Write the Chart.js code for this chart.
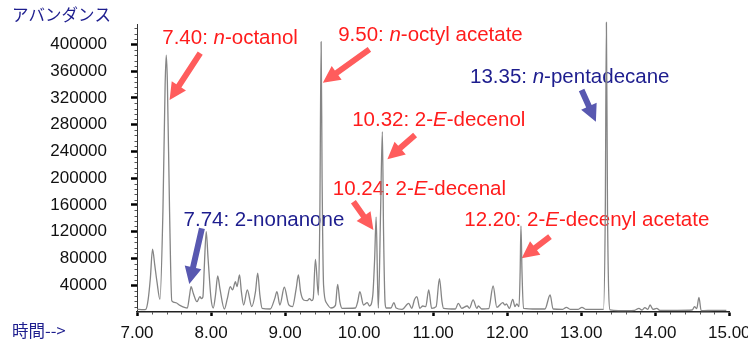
<!DOCTYPE html>
<html>
<head>
<meta charset="utf-8">
<script src="https://cdn.jsdelivr.net/npm/chart.js@4.4.1/dist/chart.umd.min.js"></script>
<style>
  html, body { margin: 0; padding: 0; background: #fff; overflow: hidden; }
  #wrap { width: 748px; height: 341px; position: relative; }
</style>
</head>
<body>
<div id="wrap"><canvas id="chart"></canvas></div>
<script>
// retention time (min) and abundance
const times = [
    7.00, 7.08, 7.12, 7.15, 7.18, 7.21, 7.24, 7.27, 7.31, 7.35, 7.38, 7.395, 7.41, 7.44, 7.47,
    7.52, 7.58, 7.64, 7.68, 7.71, 7.73, 7.76, 7.81, 7.85, 7.87, 7.89, 7.91, 7.935, 7.96, 8.00,
    8.03, 8.06, 8.09, 8.12, 8.18, 8.22, 8.26, 8.29, 8.33, 8.35, 8.385, 8.41, 8.44, 8.49, 8.55,
    8.60, 8.63, 8.66, 8.69, 8.80, 8.86, 8.89, 8.93, 8.99, 9.05, 9.10, 9.15, 9.18, 9.21, 9.25,
    9.30, 9.33, 9.36, 9.38, 9.41, 9.45, 9.47, 9.487, 9.50, 9.52, 9.56, 9.62, 9.68, 9.71, 9.74,
    9.77, 9.95, 9.98, 10.01, 10.06, 10.11, 10.14, 10.185, 10.21, 10.23, 10.25, 10.26, 10.29, 10.314, 10.33,
    10.35, 10.365, 10.43, 10.47, 10.50, 10.58, 10.67, 10.71, 10.75, 10.78, 10.82, 10.86, 10.90, 10.94, 10.98,
    11.04, 11.085, 11.12, 11.14, 11.30, 11.34, 11.385, 11.46, 11.49, 11.54, 11.59, 11.61, 11.655, 11.75, 11.81,
    11.86, 11.94, 11.97, 11.99, 12.03, 12.075, 12.105, 12.13, 12.16, 12.175, 12.186, 12.20, 12.22, 12.40, 12.51,
    12.58, 12.62, 12.75, 12.80, 12.85, 12.96, 13.01, 13.06, 13.30, 13.325, 13.34, 13.355, 13.39, 13.50, 13.72,
    13.78, 13.82, 13.86, 13.90, 13.93, 13.97, 14.02, 14.06, 14.30, 14.50, 14.53, 14.56, 14.59, 14.62, 14.80,
    14.96
];
const abundance = [
    4000, 3500, 4000, 18000, 50000, 94000, 70000, 45000, 19000, 150000, 340000, 384000, 345000, 150000, 16500,
    14000, 10000, 7000, 6000, 25000, 37800, 28000, 15400, 23000, 20000, 22400, 70000, 120000, 80000, 20000,
    6000, 25000, 53800, 35000, 4500, 20000, 37800, 33000, 45300, 38000, 55300, 30000, 10500, 32900, 8000,
    30000, 57900, 25000, 5500, 4500, 20000, 30400, 10500, 37000, 10500, 8000, 35000, 55300, 30000, 18000,
    17000, 20000, 17000, 20000, 78800, 25400, 150000, 404000, 200000, 40000, 13500, 6000, 10000, 41400, 15000,
    5500, 6000, 15000, 30400, 10500, 14000, 9000, 25400, 80000, 142000, 40000, 6000, 150000, 269500, 120000,
    15000, 6000, 6000, 14000, 6000, 4000, 13000, 5500, 19000, 23000, 5500, 9000, 8000, 32900, 5500,
    8000, 49800, 15000, 5500, 4500, 13000, 5500, 9000, 5500, 18000, 5500, 9000, 4500, 5000, 38900,
    7000, 14000, 10500, 12000, 5500, 19000, 8000, 12000, 8000, 60000, 128600, 60000, 5500, 4500, 4500,
    25400, 4500, 4000, 7000, 4000, 4000, 7000, 4000, 4000, 150000, 433000, 150000, 3000, 2000, 2500,
    5500, 3000, 6500, 4000, 10500, 4000, 5500, 2500, 2500, 3000, 8000, 5000, 22000, 2000, 2500,
    2500
];

const xTickValues = [7, 8, 9, 10, 11, 12, 13, 14, 15];
const yTickValues = [0, 40000, 80000, 120000, 160000, 200000, 240000, 280000, 320000, 360000, 400000];
const yAxisTitle = 'アバンダンス';
const xAxisTitle = '時間-->';

const RED = '#ff1c1c';
const NAVY = '#1d1d8e';
const ARROW_RED = '#ff5c5c';
const ARROW_NAVY = '#5858b0';
const FONT = '"Liberation Sans", Arial, sans-serif';

// '*' toggles italic; t/v are the left edge and middle of the text in data units
const peakLabels = [
    { text: '7.40: *n*-octanol', t: 7.341, v: 409600, color: RED },
    { text: '9.50: *n*-octyl acetate', t: 9.717, v: 414100, color: RED },
    { text: '10.32: 2-*E*-decenol', t: 9.906, v: 287000, color: RED },
    { text: '13.35: *n*-pentadecane', t: 11.498, v: 350900, color: NAVY },
    { text: '10.24: 2-*E*-decenal', t: 9.645, v: 183400, color: RED },
    { text: '12.20: 2-*E*-decenyl acetate', t: 11.421, v: 137500, color: RED },
    { text: '7.74: 2-nonanone', t: 7.629, v: 136500, color: NAVY }
];
const peakArrows = [
    { from: [7.854, 387200], to: [7.440, 316900], color: ARROW_RED },
    { from: [10.139, 392700], to: [9.510, 342800], color: ARROW_RED },
    { from: [10.756, 264600], to: [10.382, 228300], color: ARROW_RED },
    { from: [13.005, 331900], to: [13.198, 284500], color: ARROW_NAVY },
    { from: [9.923, 164900], to: [10.193, 122600], color: ARROW_RED },
    { from: [12.578, 112600], to: [12.196, 80300], color: ARROW_RED },
    { from: [7.877, 125100], to: [7.706, 41900], color: ARROW_NAVY }
];

function drawArrow(ctx, x1, y1, x2, y2, color) {
    const ang = Math.atan2(y2 - y1, x2 - x1);
    const c = Math.cos(ang), s = Math.sin(ang);
    const headLen = 17, headW = 8.5, shaft = 3;
    const bx = x2 - headLen * c, by = y2 - headLen * s;
    const nx = -s, ny = c;
    ctx.beginPath();
    ctx.moveTo(x1 + nx * shaft, y1 + ny * shaft);
    ctx.lineTo(bx + nx * shaft, by + ny * shaft);
    ctx.lineTo(bx + nx * headW, by + ny * headW);
    ctx.lineTo(x2, y2);
    ctx.lineTo(bx - nx * headW, by - ny * headW);
    ctx.lineTo(bx - nx * shaft, by - ny * shaft);
    ctx.lineTo(x1 - nx * shaft, y1 - ny * shaft);
    ctx.closePath();
    ctx.fillStyle = color;
    ctx.fill();
}

function drawRich(ctx, text, x, y, color) {
    ctx.fillStyle = color;
    ctx.textBaseline = 'middle';
    ctx.textAlign = 'left';
    text.split('*').forEach((part, i) => {
        ctx.font = (i % 2 ? 'italic ' : '') + '20.5px ' + FONT;
        ctx.fillText(part, x, y);
        x += ctx.measureText(part).width;
    });
}

const overlay = {
    id: 'overlay',
    beforeDatasetsDraw(chart) {
        const { ctx, scales: { x, y } } = chart;
        ctx.save();
        peakArrows.forEach((a) => drawArrow(ctx,
            x.getPixelForValue(a.from[0]), y.getPixelForValue(a.from[1]),
            x.getPixelForValue(a.to[0]), y.getPixelForValue(a.to[1]), a.color));
        peakLabels.forEach((l) => drawRich(ctx, l.text, x.getPixelForValue(l.t), y.getPixelForValue(l.v), l.color));
        ctx.restore();
    },
    afterDraw(chart) {
        const { ctx, scales: { x, y } } = chart;
        ctx.save();
        ctx.strokeStyle = '#555';
        ctx.lineWidth = 1;
        // minor ticks
        for (let i = 0; i <= 40; i++) {
            if (i % 5 === 0) continue;
            const px = Math.round(x.getPixelForValue(7 + i * 0.2)) + 0.5;
            ctx.beginPath();
            ctx.moveTo(px, y.bottom);
            ctx.lineTo(px, y.bottom + 2.5);
            ctx.stroke();
        }
        for (let i = 1; i * 8000 <= 430000; i++) {
            if (i % 5 === 0) continue;
            const py = Math.round(y.getPixelForValue(i * 8000)) + 0.5;
            ctx.beginPath();
            ctx.moveTo(x.left - 2.5, py);
            ctx.lineTo(x.left, py);
            ctx.stroke();
        }
        ctx.fillStyle = NAVY;
        ctx.font = '16.5px "Noto Sans CJK JP", sans-serif';
        ctx.textBaseline = 'middle';
        ctx.textAlign = 'left';
        ctx.fillText(yAxisTitle, 12, 15);
        ctx.fillText(xAxisTitle, 12, 331);
        ctx.restore();
    }
};

new Chart(document.getElementById('chart'), {
    type: 'line',
    data: {
        datasets: [{
            data: times.map((t, i) => ({ x: t, y: abundance[i] })),
            borderColor: '#858585',
            borderWidth: 1.3,
            pointRadius: 0,
            cubicInterpolationMode: 'monotone',
            clip: false
        }]
    },
    options: {
        responsive: true,
        maintainAspectRatio: false,
        devicePixelRatio: 1,
        animation: false,
        layout: { padding: { top: 24.4, right: 18.7, left: 0, bottom: 0 } },
        plugins: { legend: { display: false }, tooltip: { enabled: false } },
        scales: {
            x: {
                type: 'linear',
                min: 7,
                max: 15,
                afterBuildTicks: (scale) => { scale.ticks = xTickValues.map((v) => ({ value: v })); },
                afterFit: (scale) => { scale.height = 29; scale.paddingLeft = 0; scale.paddingRight = 0; },
                border: { color: '#222', width: 1.5 },
                grid: { drawOnChartArea: false, tickLength: 4, tickWidth: 2.5, tickColor: '#000' },
                ticks: {
                    padding: 7,
                    maxRotation: 0,
                    color: '#111',
                    font: { family: FONT, size: 17 },
                    callback: (v) => Number(v).toFixed(2)
                }
            },
            y: {
                min: 0,
                max: 430000,
                afterBuildTicks: (scale) => { scale.ticks = yTickValues.map((v) => ({ value: v })); },
                afterFit: (scale) => { scale.width = 137; scale.paddingTop = 0; scale.paddingBottom = 0; },
                border: { color: '#333', width: 1 },
                grid: {
                    drawOnChartArea: false,
                    tickLength: 6,
                    tickWidth: 2.5,
                    tickColor: (c) => (c.tick && c.tick.value === 0 ? 'rgba(0,0,0,0)' : '#000')
                },
                ticks: {
                    padding: 24,
                    color: '#111',
                    font: { family: FONT, size: 17 },
                    callback: (v) => (v === 0 ? '' : String(v))
                }
            }
        }
    },
    plugins: [overlay]
});
</script>
</body>
</html>
